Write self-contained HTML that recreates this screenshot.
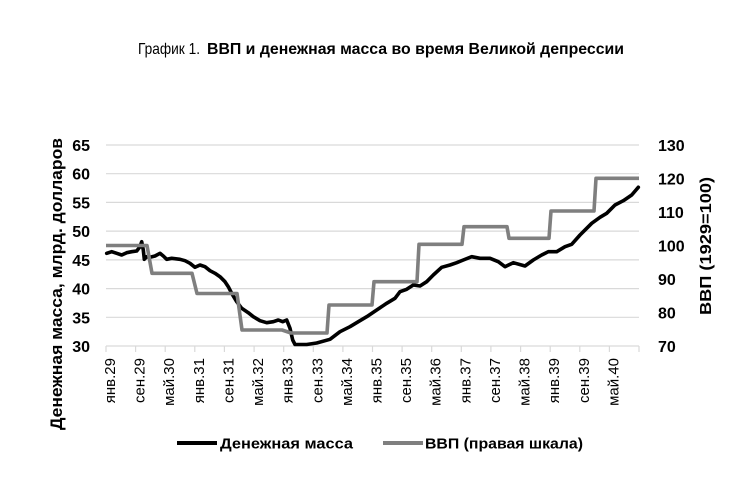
<!DOCTYPE html>
<html>
<head>
<meta charset="utf-8">
<style>
html,body{margin:0;padding:0;background:#fff;}
svg{display:block;}
text{font-family:"Liberation Sans","Noto Sans CJK SC",sans-serif;fill:#000;}
</style>
</head>
<body>
<svg width="754" height="494" viewBox="0 0 754 494" xmlns="http://www.w3.org/2000/svg">
<rect width="754" height="494" fill="#fff"/>
<!-- Title -->
<text x="138" y="54" font-size="16" textLength="62" lengthAdjust="spacingAndGlyphs" fill="#222">График 1.</text>
<text x="207" y="54" font-size="16" font-weight="bold" textLength="417" lengthAdjust="spacingAndGlyphs">ВВП и денежная масса во время Великой депрессии</text>

<!-- gridlines -->
<g stroke="#d9d9d9" stroke-width="1.2">
<line x1="106" y1="145" x2="639" y2="145"/>
<line x1="106" y1="173.7" x2="639" y2="173.7"/>
<line x1="106" y1="202.4" x2="639" y2="202.4"/>
<line x1="106" y1="231.1" x2="639" y2="231.1"/>
<line x1="106" y1="259.9" x2="639" y2="259.9"/>
<line x1="106" y1="288.6" x2="639" y2="288.6"/>
<line x1="106" y1="317.3" x2="639" y2="317.3"/>
<line x1="106" y1="346" x2="639" y2="346"/>
</g>
<!-- x ticks -->
<g stroke="#d9d9d9" stroke-width="1.2">
<line x1="106" y1="346" x2="106" y2="352"/>
<line x1="135.6" y1="346" x2="135.6" y2="352"/>
<line x1="165.2" y1="346" x2="165.2" y2="352"/>
<line x1="194.8" y1="346" x2="194.8" y2="352"/>
<line x1="224.4" y1="346" x2="224.4" y2="352"/>
<line x1="254.1" y1="346" x2="254.1" y2="352"/>
<line x1="283.7" y1="346" x2="283.7" y2="352"/>
<line x1="313.3" y1="346" x2="313.3" y2="352"/>
<line x1="342.9" y1="346" x2="342.9" y2="352"/>
<line x1="372.5" y1="346" x2="372.5" y2="352"/>
<line x1="402.1" y1="346" x2="402.1" y2="352"/>
<line x1="431.7" y1="346" x2="431.7" y2="352"/>
<line x1="461.3" y1="346" x2="461.3" y2="352"/>
<line x1="490.9" y1="346" x2="490.9" y2="352"/>
<line x1="520.6" y1="346" x2="520.6" y2="352"/>
<line x1="550.2" y1="346" x2="550.2" y2="352"/>
<line x1="579.8" y1="346" x2="579.8" y2="352"/>
<line x1="609.4" y1="346" x2="609.4" y2="352"/>
<line x1="639" y1="346" x2="639" y2="352"/>
</g>

<!-- left y labels -->
<g font-size="16" font-weight="bold" text-anchor="end">
<text x="90" y="151">65</text>
<text x="90" y="179.7">60</text>
<text x="90" y="208.4">55</text>
<text x="90" y="237.1">50</text>
<text x="90" y="265.9">45</text>
<text x="90" y="294.6">40</text>
<text x="90" y="323.3">35</text>
<text x="90" y="352">30</text>
</g>
<!-- right y labels -->
<g font-size="16" font-weight="bold" text-anchor="start">
<text x="658" y="151">130</text>
<text x="658" y="184.5">120</text>
<text x="658" y="218">110</text>
<text x="658" y="251.5">100</text>
<text x="658" y="285">90</text>
<text x="658" y="318.5">80</text>
<text x="658" y="352">70</text>
</g>

<!-- axis titles -->
<text transform="translate(62,284) rotate(-90)" font-size="17" font-weight="bold" text-anchor="middle" textLength="292" lengthAdjust="spacingAndGlyphs">Денежная масса, млрд. долларов</text>
<text transform="translate(711,246) rotate(-90)" font-size="16" font-weight="bold" text-anchor="middle" textLength="138" lengthAdjust="spacingAndGlyphs">ВВП (1929=100)</text>

<!-- x labels -->
<g font-size="15" text-anchor="end">
<text transform="translate(115,358) rotate(-90)">янв.29</text>
<text transform="translate(144.6,358) rotate(-90)">сен.29</text>
<text transform="translate(174.2,358) rotate(-90)">май.30</text>
<text transform="translate(203.8,358) rotate(-90)">янв.31</text>
<text transform="translate(233.4,358) rotate(-90)">сен.31</text>
<text transform="translate(263.1,358) rotate(-90)">май.32</text>
<text transform="translate(292.7,358) rotate(-90)">янв.33</text>
<text transform="translate(322.3,358) rotate(-90)">сен.33</text>
<text transform="translate(351.9,358) rotate(-90)">май.34</text>
<text transform="translate(381.5,358) rotate(-90)">янв.35</text>
<text transform="translate(411.1,358) rotate(-90)">сен.35</text>
<text transform="translate(440.7,358) rotate(-90)">май.36</text>
<text transform="translate(470.3,358) rotate(-90)">янв.37</text>
<text transform="translate(499.9,358) rotate(-90)">сен.37</text>
<text transform="translate(529.6,358) rotate(-90)">май.38</text>
<text transform="translate(559.2,358) rotate(-90)">янв.39</text>
<text transform="translate(588.8,358) rotate(-90)">сен.39</text>
<text transform="translate(618.4,358) rotate(-90)">май.40</text>
</g>

<!-- Money supply -->
<polyline fill="none" stroke="#000" stroke-width="3.6" stroke-linejoin="round" stroke-linecap="round"
points="106.7,253.3 111.7,251.7 116.7,253.3 121.7,255 126.7,252.7 131.7,251.7 136.7,251 140,246.7 141.7,241.7 143.3,250 144.3,259.3 146.7,256.7 150,257.3 155,256 160,253.3 163.3,256 166.7,259.3 171.7,258.3 180,259.3 185,260.7 190,263.3 195,267.3 200,265 205,266.7 210,270.7 215,273.3 220,276.7 225,281.7 228.3,286.7 231.7,293.3 236.7,301.7 241.7,308.3 248.3,312.7 253.3,316.7 260,320.7 266.7,322.7 273.3,321.7 278.3,320 282.7,321.7 286.7,320 290,328.3 292.7,340 295,344.5 306.7,344.5 316.7,343 330,339.3 340,331.7 350,326.7 358.3,321.7 366.7,316.7 376.7,310 386.7,303.3 395,298.3 400,291.7 406.7,289.3 413.3,285 420,286 426.7,281.7 433.3,275 441.7,267.3 450,265 456.7,262.7 463.3,260 471.7,256.7 480,258.3 490,258.3 498.3,261.7 505,266.7 513.3,262.7 525,266 533.3,260 541.7,255 548.3,251.7 556.7,251.7 565,246.7 571.7,244.3 580,235 586.7,228.3 591.7,223.3 600,217.3 606.7,213.3 615,205 623.3,200.7 631.7,195 638.3,187.3"/>

<!-- GDP -->
<polyline fill="none" stroke="#7f7f7f" stroke-width="3.6" stroke-linejoin="round"
points="106,245.5 147,245.5 152,273.3 192,273.3 197,293.5 237,293.5 242,330 282,330 291,333 327,333 329,305 372,305 374,281.7 417,281.7 419,244.3 462,244.3 464,226.7 507,226.7 509,238.3 549,238.3 551,211 594,211 596,178.3 639,178.3"/>

<!-- Legend -->
<line x1="177" y1="443" x2="217" y2="443" stroke="#000" stroke-width="4"/>
<text x="220" y="448.5" font-size="15" font-weight="bold" textLength="133" lengthAdjust="spacingAndGlyphs">Денежная масса</text>
<line x1="383" y1="443" x2="423" y2="443" stroke="#7f7f7f" stroke-width="4"/>
<text x="425" y="448.5" font-size="15" font-weight="bold" textLength="158" lengthAdjust="spacingAndGlyphs">ВВП (правая шкала)</text>
</svg>
</body>
</html>
